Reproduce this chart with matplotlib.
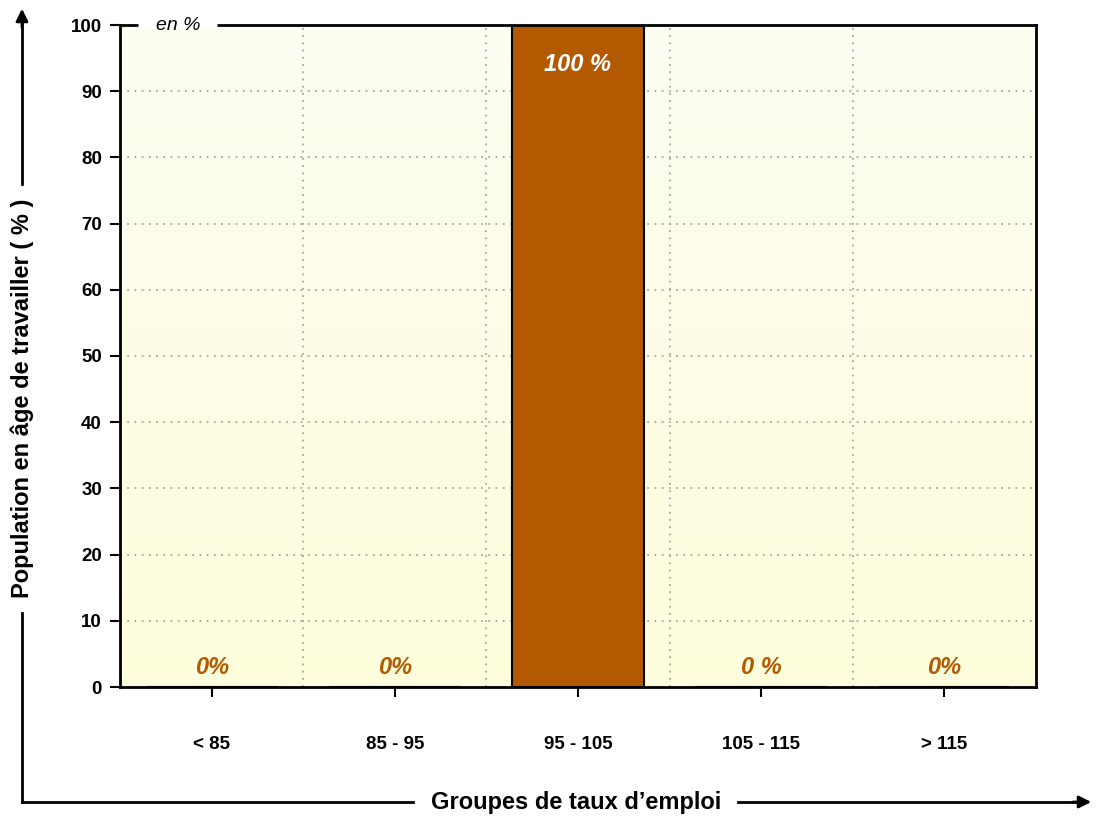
import numpy as np
import matplotlib.pyplot as plt
from matplotlib.lines import Line2D
from matplotlib.colors import LinearSegmentedColormap

plt.rcParams['font.family'] = ['Liberation Sans', 'DejaVu Sans']

groupes = ['< 85', '85 - 95', '95 - 105', '105 - 115', '> 115']
valeurs = [0, 0, 100, 0, 0]
etiquettes = ['0%', '0%', '100 %', '0 %', '0%']

W, H = 1096, 819
fig = plt.figure(figsize=(W / 100, H / 100), dpi=100)
ax = fig.add_axes([120 / W, 1 - 687 / H, (1036 - 120) / W, (687 - 25) / H])

# fond en degrade (clair en haut, jaune en bas)
cmap = LinearSegmentedColormap.from_list('fond', ['#fdfdf2', '#fffedc'])
grad = np.linspace(0, 1, 256).reshape(-1, 1)
ax.imshow(grad, aspect='auto', cmap=cmap, extent=[-0.5, 4.5, 0, 100],
          origin='upper', zorder=0)

brun = '#b35900'
x = np.arange(len(groupes))
ax.bar(x, valeurs, width=0.72, color=brun, edgecolor='black', linewidth=1.5, zorder=3)

for xi, v, lab in zip(x, valeurs, etiquettes):
    if v > 50:
        ax.text(xi, v - 6, lab, ha='center', va='center', color='white',
                fontsize=17, fontweight='bold', style='italic', zorder=4)
    else:
        ax.text(xi, 3, lab, ha='center', va='center', color=brun,
                fontsize=17, fontweight='bold', style='italic', zorder=4)

ax.set_xlim(-0.5, 4.5)
ax.set_ylim(0, 100)
ax.set_yticks(range(0, 101, 10))
ax.set_xticks(x)
ax.set_xticklabels(groupes)
ax.set_xticks(np.arange(0.5, 4.5, 1), minor=True)
ax.tick_params(axis='x', which='minor', length=0)
ax.tick_params(axis='x', which='major', length=7, width=1.5, pad=28, labelsize=13.5)
ax.tick_params(axis='y', length=7, width=1.5, pad=6, labelsize=13.5)
for lab in ax.get_xticklabels() + ax.get_yticklabels():
    lab.set_fontweight('bold')

ax.grid(axis='y', which='major', color='#a6a6a6', linestyle=(0, (1, 3)), linewidth=1.3, zorder=1)
ax.grid(axis='x', which='minor', color='#a6a6a6', linestyle=(0, (1, 3)), linewidth=1.3, zorder=1)
ax.set_axisbelow(True)
for s in ax.spines.values():
    s.set_linewidth(2)
    s.set_zorder(5)

# trou dans le cadre pour "en %"
ax.add_line(Line2D([(138 - 120) / 916, (217 - 120) / 916], [1.0, 1.0], transform=ax.transAxes,
                   color='white', lw=5, solid_capstyle='butt', clip_on=False, zorder=6))
ax.text((178 - 120) / 916, 1.0, 'en %', transform=ax.transAxes, ha='center', va='center',
        fontsize=14, style='italic', zorder=7)

# fleches des axes
def fx(px):
    return px / W

def fy(py):
    return 1 - py / H

fig.add_artist(Line2D([fx(22), fx(22)], [fy(613), fy(802)], color='black', lw=2))
fig.add_artist(Line2D([fx(22), fx(413)], [fy(802), fy(802)], color='black', lw=2))
fig.add_artist(Line2D([fx(22), fx(22)], [fy(184), fy(20)], color='black', lw=2))
fig.add_artist(Line2D([fx(738), fx(1080)], [fy(802), fy(802)], color='black', lw=2))
ax.annotate('', xy=(fx(22), fy(6)), xytext=(fx(22), fy(30)), xycoords='figure fraction',
            arrowprops=dict(arrowstyle='-|>', color='black', lw=2, mutation_scale=18))
ax.annotate('', xy=(fx(1094), fy(802)), xytext=(fx(1070), fy(802)), xycoords='figure fraction',
            arrowprops=dict(arrowstyle='-|>', color='black', lw=2, mutation_scale=18))

fig.text(fx(22), fy(398), 'Population en âge de travailler ( % )', rotation=90,
         ha='center', va='center', fontsize=17, fontweight='bold')
fig.text(fx(576), fy(803), 'Groupes de taux d\u2019emploi', ha='center', va='center',
         fontsize=17, fontweight='bold')

fig.savefig('out.png', dpi=100)
